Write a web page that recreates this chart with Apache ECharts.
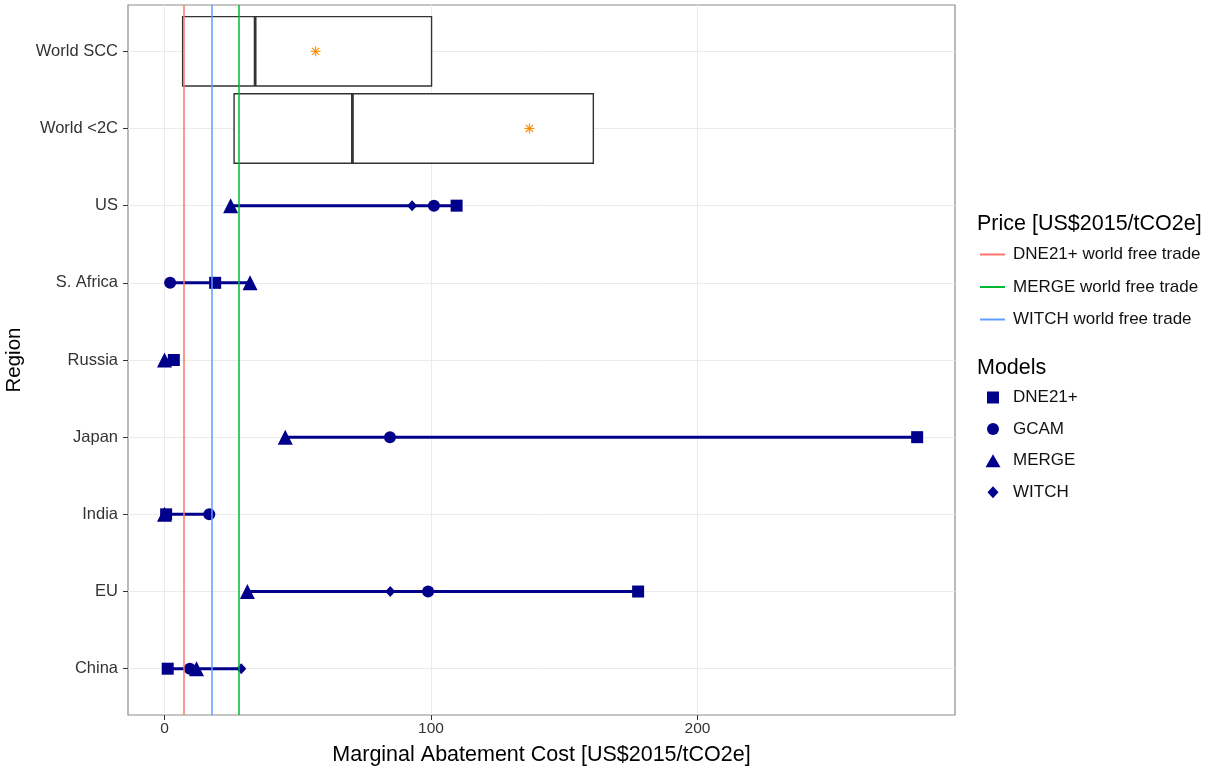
<!DOCTYPE html>
<html><head><meta charset="utf-8">
<script src="https://cdn.jsdelivr.net/npm/echarts@6/dist/echarts.min.js"></script>
<style>html,body{margin:0;padding:0;background:#fff}#c{width:1214px;height:770px}</style>
</head><body><div id="c"></div>
<script>
// Categories (bottom to top)
const regions = ['China','EU','India','Japan','Russia','S. Africa','US','World <2C','World SCC'];
// Model marginal abatement costs per region [US$2015/tCO2e]
const dne21 = [1.2, 177.7, 0.6, 282.4, 3.5, 19.0, 109.6, null, null];
const gcam  = [9.5, 98.9, 16.8, 84.6, null, 2.1, 101.1, null, null];
const merge = [12.0, 31.1, 0.0, 45.3, 0.0, 32.1, 24.8, null, null];
const witch = [28.8, 84.7, null, null, null, null, 92.9, null, null];
// World boxes
const boxRegions = ['World <2C', 'World SCC'];
const boxLow = [26.1, 6.8];
const boxMedian = [70.5, 34.0];
const boxHigh = [160.9, 100.2];
const boxMean = [136.9, 56.7];
// World free trade prices
const priceNames = ['DNE21+ world free trade','MERGE world free trade','WITCH world free trade'];
const priceValues = [7.1, 28.0, 17.9];
const priceColors = ['#F8766D','#00BA38','#619CFF'];
const xTicks = [0, 100, 200];
const yTicks = [1,2,3,4,5,6,7,8,9];

const FONT = 'Liberation Sans, Arial, Helvetica, sans-serif';
const NAVY = '#00008B';

function pts(arr){ const o=[]; arr.forEach((v,i)=>{ if(v!==null) o.push([v, i+1]); }); return o; }
const rangeData = regions.map((r,i)=>{
  const vals=[dne21[i],gcam[i],merge[i],witch[i]].filter(v=>v!==null);
  return vals.length ? [Math.min(...vals), Math.max(...vals), i+1] : null;
}).filter(d=>d);
const boxData = boxRegions.map((r,k)=>[regions.indexOf(r)+1, boxLow[k], boxMedian[k], boxHigh[k], boxMean[k]]);

const chart = echarts.init(document.getElementById('c'), null, {renderer:'canvas'});
const series = [];
series.push({
  type:'custom', name:'range', silent:true, z:2,
  data: rangeData,
  renderItem(params, api){
    const a = api.coord([api.value(0), api.value(2)]);
    const b = api.coord([api.value(1), api.value(2)]);
    return {type:'line', shape:{x1:a[0],y1:a[1],x2:b[0],y2:b[1]}, style:{stroke:NAVY, lineWidth:3}};
  }
});
series.push({
  type:'custom', name:'boxes', silent:true, z:2,
  data: boxData,
  renderItem(params, api){
    const y = api.value(0);
    const tl = api.coord([api.value(1), y+0.45]);
    const br = api.coord([api.value(3), y-0.45]);
    const m1 = api.coord([api.value(2), y+0.45]);
    const m2 = api.coord([api.value(2), y-0.45]);
    const c = api.coord([api.value(4), y]);
    const r = 5;
    const d = r*0.7071;
    const st = {stroke:'#FF8C00', lineWidth:1.1};
    return {type:'group', children:[
      {type:'rect', shape:{x:tl[0], y:tl[1], width:br[0]-tl[0], height:br[1]-tl[1]}, style:{fill:'#fff', stroke:'#333', lineWidth:1.4}},
      {type:'line', shape:{x1:m1[0],y1:m1[1],x2:m2[0],y2:m2[1]}, style:{stroke:'#333', lineWidth:2.8}},
      {type:'line', shape:{x1:c[0]-r,y1:c[1],x2:c[0]+r,y2:c[1]}, style:st},
      {type:'line', shape:{x1:c[0],y1:c[1]-r,x2:c[0],y2:c[1]+r}, style:st},
      {type:'line', shape:{x1:c[0]-d,y1:c[1]-d,x2:c[0]+d,y2:c[1]+d}, style:st},
      {type:'line', shape:{x1:c[0]-d,y1:c[1]+d,x2:c[0]+d,y2:c[1]-d}, style:st}
    ]};
  }
});
const models = [
  {name:'DNE21+', data:dne21, symbol:'rect', size:12},
  {name:'GCAM', data:gcam, symbol:'circle', size:12},
  {name:'MERGE', data:merge, symbol:'triangle', size:15},
  {name:'WITCH', data:witch, symbol:'diamond', size:[10,11]}
];
models.forEach(m=>series.push({
  type:'scatter', name:m.name, symbol:m.symbol, symbolSize:m.size, z:3,
  itemStyle:{color:NAVY, opacity:1}, data:pts(m.data), silent:true
}));
priceNames.forEach((n,i)=>series.push({
  type:'line', name:n, data:[], symbol:'none', color:priceColors[i], z:5,
  lineStyle:{color:priceColors[i], width:1.5},
  markLine:{silent:true, symbol:['none','none'], label:{show:false}, animation:false,
    lineStyle:{color:priceColors[i], width:1.5, type:'solid'},
    data:[{xAxis:priceValues[i]}]}
}));

const lineIcon = 'path://M0,0H25V2H0Z';
const modelIcons = {
  'DNE21+':'path://M0,0M16,16M2,2H14V14H2Z',
  'GCAM':'path://M0,0M16,16M2,8A6,6,0,1,1,14,8A6,6,0,1,1,2,8Z',
  'MERGE':'path://M0,0M16,16M8,1.5L15.5,14.5H0.5Z',
  'WITCH':'path://M0,0M16,16M8,2L13.5,8L8,14L2.5,8Z'
};
chart.setOption({
  animation:false,
  textStyle:{fontFamily:FONT},
  grid:{left:128, right:259, top:5, bottom:55, show:true, borderColor:'#8c8c8c', borderWidth:1.2,
    containLabel:false, outerBoundsMode:'none'},
  xAxis:{type:'value', min:-13.7, max:296.6,
    name:'Marginal Abatement Cost [US$2015/tCO2e]', nameLocation:'middle', nameGap:29,
    nameTextStyle:{fontSize:21.5, color:'#000', fontFamily:FONT},
    axisLine:{show:false, onZero:false},
    axisTick:{show:true, length:5, customValues:xTicks, lineStyle:{color:'#333'}},
    axisLabel:{customValues:xTicks, fontSize:15.5, color:'#333', margin:6, fontFamily:FONT},
    splitLine:{show:true, lineStyle:{color:'#EBEBEB', width:1}}
  },
  yAxis:{type:'value', min:0.4, max:9.6,
    name:'Region', nameLocation:'middle', nameGap:100, nameRotate:90,
    nameTextStyle:{fontSize:20.5, color:'#000', fontFamily:FONT},
    axisLine:{show:false, onZero:false},
    axisTick:{show:true, length:5, customValues:yTicks, lineStyle:{color:'#333'}},
    axisLabel:{customValues:yTicks, fontSize:16.5, color:'#333', margin:10, fontFamily:FONT,
      formatter:v=>regions[Math.round(v)-1] || ''},
    splitLine:{show:true, lineStyle:{color:'#EBEBEB', width:1}}
  },
  title:[
    {text:'Price [US$2015/tCO2e]', left:977, top:213, padding:0, textStyle:{fontSize:21.5, fontWeight:'normal', color:'#000', fontFamily:FONT}},
    {text:'Models', left:977, top:357, padding:0, textStyle:{fontSize:21.5, fontWeight:'normal', color:'#000', fontFamily:FONT}}
  ],
  legend:[
    {orient:'vertical', left:980, top:246, padding:0, itemWidth:25, itemHeight:16, itemGap:15.5,
      data:priceNames.map(n=>({name:n, icon:lineIcon})), selectedMode:false,
      textStyle:{fontSize:17, lineHeight:16, color:'#111', padding:[0,0,0,3], fontFamily:FONT}},
    {orient:'vertical', left:985, top:389, padding:0, itemWidth:16, itemHeight:16, itemGap:14.6,
      data:['DNE21+','GCAM','MERGE','WITCH'].map(n=>({name:n, icon:modelIcons[n]})),
      selectedMode:false,
      textStyle:{fontSize:17, lineHeight:16, color:'#111', padding:[0,0,0,7], fontFamily:FONT}}
  ],
  series
});
</script></body></html>
